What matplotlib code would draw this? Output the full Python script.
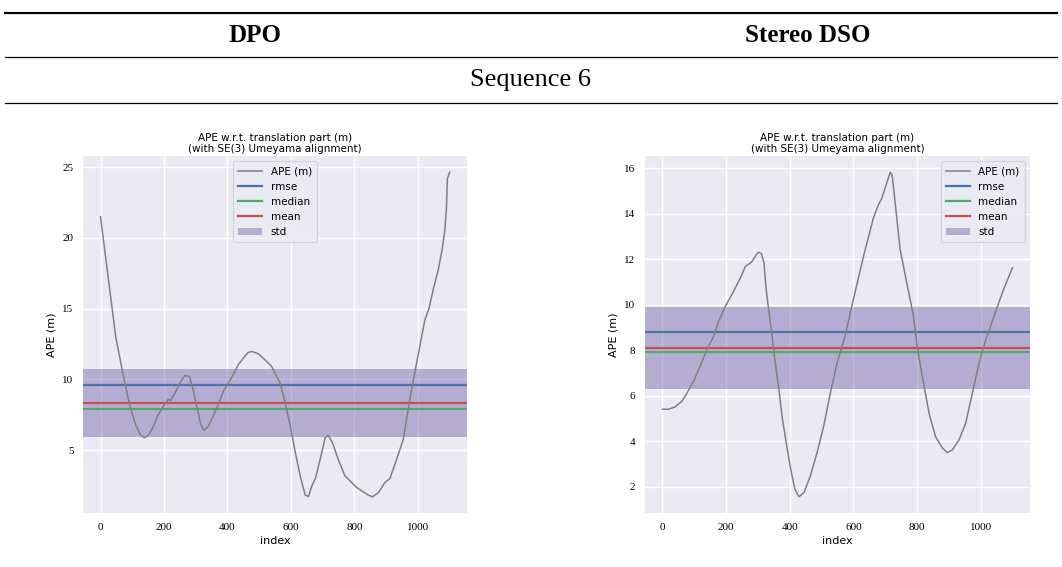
import matplotlib
matplotlib.use("Agg")
import matplotlib.pyplot as plt
from matplotlib.lines import Line2D

# values
idx_dpo = [0, 48, 62, 78, 93, 109, 125, 138, 151, 167, 182, 198, 214, 221, 235, 250, 266, 280,
           292, 303, 316, 326, 340, 355, 371, 387, 403, 418, 434, 450, 465, 478, 497, 518, 539,
           550, 566, 582, 597, 613, 629, 645, 655, 666, 678, 692, 708, 718, 731, 749, 770, 786,
           807, 828, 844, 857, 876, 896, 912, 933, 954, 964, 975, 986, 996, 1012, 1022, 1035,
           1048, 1064, 1076, 1085, 1090, 1093, 1100]
ape_dpo = [21.5, 13.0, 11.4, 9.6, 8.1, 6.9, 6.1, 5.87, 6.03, 6.7, 7.5, 8.1, 8.6, 8.5, 9.04, 9.74,
           10.26, 10.21, 9.27, 8.1, 6.81, 6.39, 6.69, 7.39, 8.22, 9.15, 9.74, 10.33, 11.03, 11.5,
           11.9, 11.97, 11.81, 11.39, 10.92, 10.4, 9.74, 8.33, 6.81, 4.93, 3.17, 1.81, 1.71, 2.46,
           3.05, 4.34, 5.87, 6.03, 5.51, 4.34, 3.17, 2.82, 2.35, 2.04, 1.81, 1.69, 1.99, 2.7, 2.98,
           4.34, 5.75, 7.16, 8.57, 9.98, 11.15, 13.03, 14.2, 15.02, 16.32, 17.73, 19.13, 20.54,
           22.18, 24.18, 24.65]
stats_dpo = {"rmse": 9.63, "median": 7.93, "mean": 8.35, "std": 2.41}

idx_sdso = [0, 20, 41, 62, 78, 98, 119, 140, 161, 177, 198, 224, 245, 261, 280, 292, 301, 311,
            319, 326, 335, 345, 353, 366, 376, 389, 403, 416, 429, 445, 465, 486, 507, 528, 549,
            574, 600, 632, 663, 679, 690, 705, 716, 722, 727, 747, 768, 789, 802, 817, 838, 858,
            880, 895, 911, 932, 953, 974, 995, 1016, 1046, 1072, 1100]
ape_sdso = [5.41, 5.41, 5.52, 5.77, 6.14, 6.65, 7.31, 8.04, 8.62, 9.28, 9.94, 10.6, 11.18, 11.69,
            11.87, 12.13, 12.31, 12.25, 11.84, 10.67, 9.65, 8.62, 7.6, 6.29, 5.08, 3.94, 2.78,
            1.9, 1.56, 1.75, 2.48, 3.5, 4.68, 6.14, 7.45, 8.62, 10.23, 12.13, 13.81, 14.4, 14.69,
            15.35, 15.82, 15.68, 15.06, 12.43, 10.96, 9.5, 8.01, 6.84, 5.23, 4.21, 3.7, 3.5, 3.62,
            4.06, 4.79, 6.11, 7.43, 8.45, 9.65, 10.67, 11.62]
stats_sdso = {"rmse": 8.81, "median": 7.93, "mean": 8.09, "std": 1.80}

methods = ["DPO", "Stereo DSO"]
sequence_title = "Sequence 6"
plot_title = "APE w.r.t. translation part (m)\n(with SE(3) Umeyama alignment)"

plt.rcParams["font.family"] = "DejaVu Sans"

fig = plt.figure(figsize=(10.62, 5.67), dpi=100)


def ape_plot(ax, x, y, st, legend_loc):
    ax.set_facecolor("#EAEAF2")
    for s in ax.spines.values():
        s.set_visible(False)
    ax.grid(True, color="white", linewidth=1.0)
    ax.set_axisbelow(True)
    ax.axhspan(st["mean"] - st["std"], st["mean"] + st["std"], color="#8172B2", alpha=0.5,
               linewidth=0, label="std", zorder=1)
    ax.plot(x, y, color="gray", linewidth=1.1, label="APE (m)", zorder=3)
    ax.axhline(st["rmse"], color="#4C72B0", linewidth=1.6, label="rmse", zorder=2)
    ax.axhline(st["median"], color="#55A868", linewidth=1.6, label="median", zorder=2)
    ax.axhline(st["mean"], color="#C44E52", linewidth=1.6, label="mean", zorder=2)
    ax.set_title(plot_title, fontsize=7.5, pad=3, linespacing=1.05)
    ax.set_xlabel("index", fontsize=8, labelpad=3)
    ax.set_ylabel("APE (m)", fontsize=8, labelpad=4)
    ax.tick_params(length=0, pad=7, labelsize=8)
    for lab in ax.get_xticklabels() + ax.get_yticklabels():
        lab.set_fontfamily("Liberation Serif")
    h, l = ax.get_legend_handles_labels()
    order = [l.index(k) for k in ["APE (m)", "rmse", "median", "mean", "std"]]
    leg = ax.legend([h[i] for i in order], [l[i] for i in order], loc=legend_loc,
                    fontsize=7.5, frameon=True, facecolor="#EAEAF2", edgecolor="#cccccc",
                    framealpha=0.8, handlelength=2.3, borderpad=0.5)
    leg.get_frame().set_linewidth(0.8)


ax1 = fig.add_axes([0.0782, 0.0952, 0.3616, 0.6296])
ape_plot(ax1, idx_dpo, ape_dpo, stats_dpo, "upper center")
ax1.set_xticks([0, 200, 400, 600, 800, 1000])
ax1.set_yticks([5, 10, 15, 20, 25])
for lab in ax1.get_xticklabels() + ax1.get_yticklabels():
    lab.set_fontfamily("Liberation Serif")

ax2 = fig.add_axes([0.6073, 0.0952, 0.3625, 0.6296])
ape_plot(ax2, idx_sdso, ape_sdso, stats_sdso, "upper right")
ax2.set_xticks([0, 200, 400, 600, 800, 1000])
ax2.set_yticks([2, 4, 6, 8, 10, 12, 14, 16])
for lab in ax2.get_xticklabels() + ax2.get_yticklabels():
    lab.set_fontfamily("Liberation Serif")

# table-like header
fig.add_artist(Line2D([0.005, 0.995], [1 - 13 / 567] * 2, color="black", linewidth=1.6))
fig.add_artist(Line2D([0.005, 0.995], [1 - 57 / 567] * 2, color="black", linewidth=0.9))
fig.add_artist(Line2D([0.005, 0.995], [1 - 103 / 567] * 2, color="black", linewidth=0.9))
fig.text(255 / 1062, 1 - 35 / 567, methods[0], ha="center", va="center", fontsize=18,
         fontweight="bold", family="Liberation Serif")
fig.text(808 / 1062, 1 - 35 / 567, methods[1], ha="center", va="center", fontsize=18,
         fontweight="bold", family="Liberation Serif")
fig.text(531 / 1062, 1 - 80 / 567, sequence_title, ha="center", va="center", fontsize=19,
         family="Liberation Serif")

fig.savefig("out.png", dpi=100)
